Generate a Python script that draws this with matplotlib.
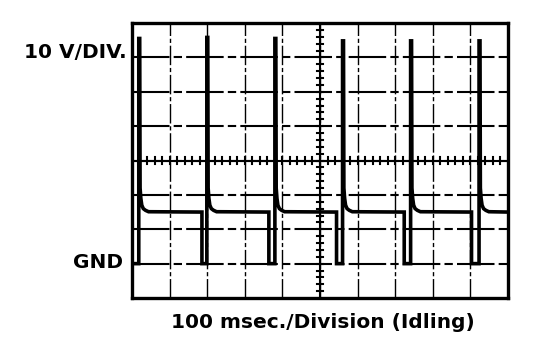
import numpy as np
import matplotlib
matplotlib.use("Agg")
import matplotlib.pyplot as plt

# ---------------------------------------------------------------------------
# Scope trace: 100 ms/div, 10 V/div, GND one div up
# ---------------------------------------------------------------------------
BASE_V = 15.0                                   # level between events
DROP_MS = [0, 186, 364, 544, 724, 903]          # trace falls to GND
SPIKE_MS = [18, 199, 380, 560, 741, 923]        # spike rises
PEAK_V = [65.5, 65.8, 65.5, 64.8, 64.8, 64.8]

# spike tail after the peak (ms after spike start, volts)
TAIL_DT = [3.5, 5.5, 8, 12, 18, 26]
TAIL_V = [22.0, 19.0, 17.0, 16.0, 15.5, 15.1]

X_RANGE = (0, 1000)
Y_RANGE = (-10, 70)


def build_trace():
    t, v = [0], [BASE_V]
    for td, ts, pk in zip(DROP_MS, SPIKE_MS, PEAK_V):
        t += [td, td, ts, ts, ts + 2.5]
        v += [BASE_V, 0, 0, pk, pk]
        t += [ts + d for d in TAIL_DT]
        v += TAIL_V
    t.append(X_RANGE[1])
    v.append(BASE_V)
    return np.array(t), np.array(v)


W, H = 544, 340
fig = plt.figure(figsize=(W / 100, H / 100), dpi=100)
fig.patch.set_facecolor("white")
ax = fig.add_axes([132 / W, 1 - 298 / H, (508 - 132) / W, (298 - 23) / H])
ax.set_xlim(*X_RANGE)
ax.set_ylim(*Y_RANGE)
ax.set_xticks([])
ax.set_yticks([])
for sp in ax.spines.values():
    sp.set_linewidth(2.4)
    sp.set_color("black")

# graticule
for x in np.arange(100, 1000, 100):
    ax.axvline(x, color="black", lw=1.0, ls=(0, (14, 2, 3, 2)), zorder=1)
for y in np.arange(0, 70, 10):
    ax.axhline(y, color="black", lw=1.5, ls=(0, (18, 2, 4, 2)), zorder=1)

# centre lines with sub-division ticks
ax.axhline(30, color="black", lw=1.5, zorder=1)
ax.axvline(500, color="black", lw=1.5, zorder=1)
for x in np.arange(20, 1000, 20):
    ax.plot([x, x], [29.0, 31.0], color="black", lw=1.5, zorder=1)
for y in np.arange(-8, 70, 2):
    ax.plot([491, 509], [y, y], color="black", lw=1.5, zorder=1)

t, v = build_trace()
ax.plot(t, v, color="black", lw=2.6, solid_joinstyle="miter", zorder=3)

font = dict(family="DejaVu Sans", fontweight="bold", fontsize=14.5, color="black")
fig.text(127 / W, 1 - 52 / H, "10 V/DIV.", ha="right", va="center", **font)
fig.text(123 / W, 1 - 263 / H, "GND", ha="right", va="center", **font)
fig.text(323 / W, 1 - 328 / H, "100 msec./Division (Idling)", ha="center",
         va="baseline", **font)

fig.savefig("out.png", dpi=100, facecolor="white")
